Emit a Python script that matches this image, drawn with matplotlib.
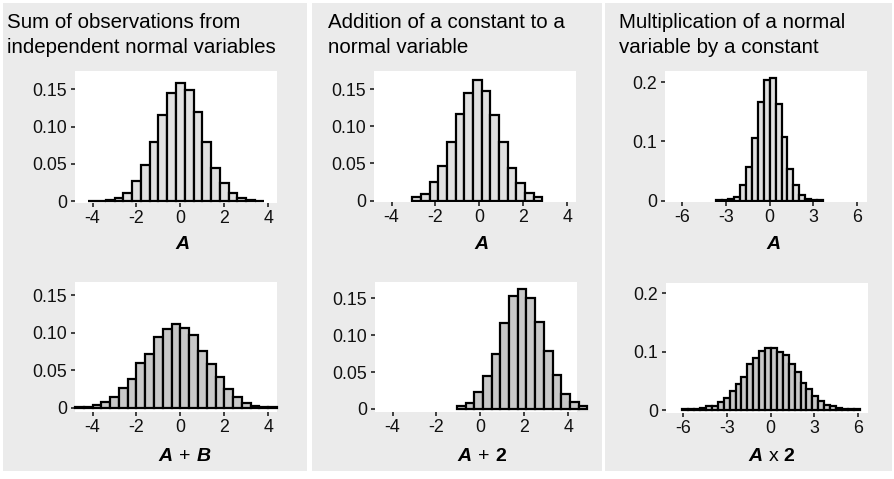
import numpy as np
import matplotlib
matplotlib.use("Agg")
import matplotlib.pyplot as plt
from matplotlib.patches import Rectangle

plt.rcParams["font.family"] = ["Liberation Sans", "DejaVu Sans"]
plt.rcParams["axes.unicode_minus"] = False
plt.rcParams["mathtext.fontset"] = "custom"
plt.rcParams["mathtext.rm"] = "Liberation Sans"
plt.rcParams["mathtext.it"] = "Liberation Sans:italic:bold"
plt.rcParams["mathtext.bf"] = "Liberation Sans:bold"

W, H = 895, 479

# ---- data: histogram bins (first edge, bin width) and bar heights ----
sum_a_start, sum_a_width = -4.2, 0.4
sum_a_heights = [0.001, 0.001, 0.002, 0.005, 0.011, 0.027, 0.048, 0.080, 0.116, 0.145,
                 0.159, 0.149, 0.120, 0.079, 0.045, 0.025, 0.011, 0.004, 0.002, 0.001]

sum_ab_start, sum_ab_width = -4.8, 0.4
sum_ab_heights = [0.0003, 0.0005, 0.0036, 0.008, 0.0142, 0.0258, 0.0383, 0.0592, 0.0712,
                  0.0944, 0.1046, 0.1109, 0.1064, 0.0962, 0.0753, 0.0574, 0.0405, 0.0249,
                  0.0142, 0.0062, 0.0022, 0.001, 0.0005]

add_a_start, add_a_width = -3.05, 0.394
add_a_heights = [0.0049, 0.0093, 0.0253, 0.0467, 0.0787, 0.1164, 0.1453, 0.1618, 0.148,
                 0.1156, 0.0787, 0.0436, 0.024, 0.0107, 0.0053]

add_a2_start, add_a2_width = -1.07, 0.396
add_a2_heights = [0.0041, 0.0086, 0.0226, 0.0447, 0.0745, 0.116, 0.1536, 0.1622, 0.1509,
                  0.1183, 0.079, 0.0456, 0.0203, 0.0099, 0.0045]

mul_a_start, mul_a_width = -3.66, 0.407
mul_a_heights = [0.001, 0.001, 0.002, 0.0065, 0.027, 0.057, 0.105, 0.167, 0.203, 0.207,
                 0.164, 0.108, 0.054, 0.026, 0.009, 0.002, 0.001, 0.001]

mul_a2_start, mul_a2_width = -6.07, 0.4063
mul_a2_heights = [0.002, 0.002, 0.003, 0.004, 0.007, 0.007, 0.014, 0.022, 0.033, 0.045,
                  0.058, 0.080, 0.089, 0.101, 0.107, 0.106, 0.099, 0.095, 0.079, 0.066,
                  0.047, 0.036, 0.025, 0.016, 0.009, 0.007, 0.005, 0.003, 0.003, 0.002]

titles = [["Sum of observations from", "independent normal variables"],
          ["Addition of a constant to a", "normal variable"],
          ["Multiplication of a normal", "variable by a constant"]]

x_labels_top = [r"$A$", r"$A$", r"$A$"]
x_labels_bottom = [r"$A\,+\,B$", r"$A\,+\,\mathbf{2}$", r"$A\ \mathrm{x}\ \mathbf{2}$"]

ticks_lr_x = [-4, -2, 0, 2, 4]
ticks_lr_y = [0, 0.05, 0.10, 0.15]
ticklabels_lr_y = ["0", "0.05", "0.10", "0.15"]
ticks_r_x = [-6, -3, 0, 3, 6]
ticks_r_y = [0, 0.1, 0.2]
ticklabels_r_y = ["0", "0.1", "0.2"]

fill_top = "#E0E0E0"
fill_bottom = "#C8C8C8"
panel_bg = "#EBEBEB"

fig = plt.figure(figsize=(W / 100, H / 100), dpi=100)
fig.patch.set_facecolor("white")


def px_rect(x0, y0, x1, y1):
    return [x0 / W, 1 - y1 / H, (x1 - x0) / W, (y1 - y0) / H]


# grey panel backgrounds
for x0, x1 in [(3, 307), (312, 602), (605, 892)]:
    fig.patches.append(Rectangle((x0 / W, 1 - 471 / H), (x1 - x0) / W, (471 - 3) / H,
                                 transform=fig.transFigure, facecolor=panel_bg,
                                 edgecolor="none", zorder=-10))

# titles
for (x, lines) in zip([7, 328, 619], titles):
    for yb, line in zip([28.3, 53.3], lines):
        fig.text(x / W, 1 - yb / H, line, fontsize=14.8, color="black",
                 ha="left", va="baseline")

panels = [
    # rect, start, width, heights, fill, xlim, ylim, xticks, yticks, yticklabels, clip
    ((75, 71, 277, 203), sum_a_start, sum_a_width, sum_a_heights, fill_top,
     (-4.8, 4.4), (-0.0023, 0.1745), ticks_lr_x, ticks_lr_y, ticklabels_lr_y, True),
    ((75, 282, 277, 412), sum_ab_start, sum_ab_width, sum_ab_heights, fill_bottom,
     (-4.8, 4.4), (-0.006, 0.1674), ticks_lr_x, ticks_lr_y, ticklabels_lr_y, False),
    ((374, 71, 576, 202), add_a_start, add_a_width, add_a_heights, fill_top,
     (-4.8, 4.4), (-0.0017, 0.1742), ticks_lr_x, ticks_lr_y, ticklabels_lr_y, True),
    ((375, 282, 577, 412), add_a2_start, add_a2_width, add_a2_heights, fill_bottom,
     (-4.8, 4.4), (-0.0041, 0.172), ticks_lr_x, ticks_lr_y, ticklabels_lr_y, False),
    ((665, 71, 867, 202), mul_a_start, mul_a_width, mul_a_heights, fill_top,
     (-7.2, 6.7), (-0.0025, 0.219), ticks_r_x, ticks_r_y, ticklabels_r_y, True),
    ((666, 283, 868, 413), mul_a2_start, mul_a2_width, mul_a2_heights, fill_bottom,
     (-7.2, 6.7), (-0.0043, 0.2176), ticks_r_x, ticks_r_y, ticklabels_r_y, True),
]

for (rect, start, width, heights, fill, xlim, ylim, xt, yt, ytl, clip) in panels:
    ax = fig.add_axes(px_rect(*rect), zorder=1)
    ax.set_facecolor("white")
    lefts = start + width * np.arange(len(heights))
    bars = ax.bar(lefts, heights, width=width, align="edge", color=fill,
                  edgecolor="black", linewidth=1.6, zorder=2)
    for b in bars:
        b.set_clip_on(clip)
    ax.set_xlim(*xlim)
    ax.set_ylim(*ylim)
    ax.set_xticks(xt)
    ax.set_xticklabels([str(t) for t in xt])
    ax.set_yticks(yt)
    ax.set_yticklabels(ytl)
    for s in ax.spines.values():
        s.set_visible(False)
    ax.tick_params(axis="both", length=2.6, width=1.1, color="#111111",
                   labelsize=12.8, labelcolor="#111111")
    ax.tick_params(axis="x", pad=2.2)
    ax.tick_params(axis="y", pad=3.2)

# x axis titles
for x, lab in zip([183, 482, 774], x_labels_top):
    fig.text(x / W, 1 - 249 / H, lab, fontsize=14, ha="center", va="baseline")
for x, lab in zip([184.5, 482, 772], x_labels_bottom):
    fig.text(x / W, 1 - 461 / H, lab, fontsize=14, ha="center", va="baseline")

fig.savefig("out.png", dpi=100, facecolor="white")
